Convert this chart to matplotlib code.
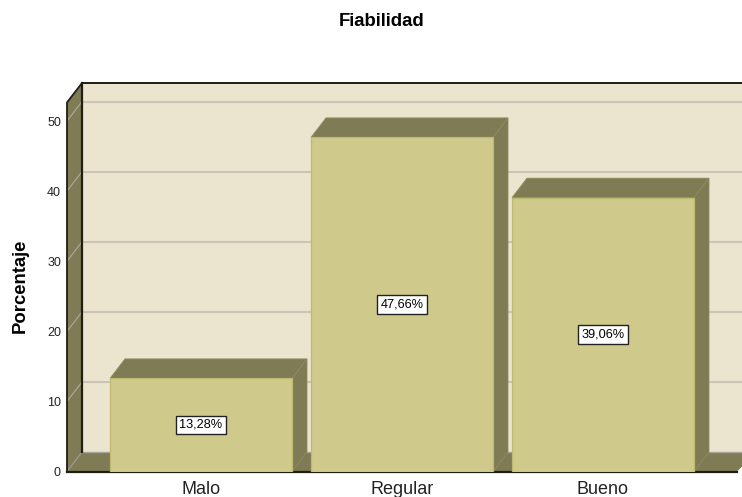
import matplotlib
matplotlib.use('Agg')
import matplotlib.pyplot as plt
from matplotlib.patches import Polygon

categorias = ['Malo', 'Regular', 'Bueno']
porcentajes = [13.28, 47.66, 39.06]
etiquetas = ['13,28%', '47,66%', '39,06%']
yticks = [0, 10, 20, 30, 40, 50]

plt.rcParams['font.family'] = ['Liberation Sans', 'DejaVu Sans']

W, H = 742, 497
fig = plt.figure(figsize=(W / 100, H / 100), dpi=100)
# ejes en pixeles de la imagen original
left, right, bottom, top = 67, 742, 471.5, 83
ax = fig.add_axes([left / W, 1 - bottom / H, (right - left) / W, (bottom - top) / H])
px_x = 201.0  # pixeles por categoria
px_y = 7.01   # pixeles por unidad
ax.set_xlim((left - 201) / px_x, (right - 201) / px_x)
ax.set_ylim(0, (bottom - top) / px_y)
ax.axis('off')

# profundidad 3d en unidades de datos
dx = 15 / px_x
dy = 19.5 / px_y
x0, x1 = ax.get_xlim()
ymax = ax.get_ylim()[1]
ytop = ymax - dy

pared = '#EBE5D0'
oscuro = '#7F7B55'
claro = '#CFCA8C'
borde = '#BDB96F'
diagonal = '#8F8B5C'
rejilla = '#C9C4B5'


def poli(pts, fc, ec='none', lw=0, z=1):
    ax.add_patch(Polygon(pts, closed=True, facecolor=fc, edgecolor=ec, linewidth=lw, zorder=z, clip_on=False))


# pared del fondo, suelo y pared izquierda
poli([(x0 + dx, dy), (x1 + dx, dy), (x1 + dx, ymax), (x0 + dx, ymax)], pared)
poli([(x0, 0), (x0 + dx, dy), (x1 + dx, dy), (x1 - 5 / px_x, 0)], oscuro, z=1.5)
poli([(x0, 0), (x0 + dx, dy), (x0 + dx, ymax), (x0, ytop)], oscuro, z=1.5)

for t in yticks[1:]:
    ax.plot([x0 + dx, x1], [t + dy, t + dy], color=rejilla, lw=1.5, zorder=2, clip_on=False)
    ax.plot([x0, x0 + dx], [t, t + dy], color='#A8A89C', lw=0.9, zorder=2, clip_on=False)
ax.plot([x0, x0 + dx], [0, dy], color='#9A9A90', lw=0.9, zorder=2)

# bordes negros
ax.plot([x0 + dx, x0 + dx], [dy, ymax], color='#1E1E14', lw=1.6, zorder=3, clip_on=False)
ax.plot([x0 + dx, x1], [ymax, ymax], color='#1E1E14', lw=1.4, zorder=3, clip_on=False)
ax.plot([x0 + dx, x0, x0], [ymax, ytop, 0], color='#1E1E14', lw=1.3, zorder=3, clip_on=False)
ax.plot([x0, x1 - 5 / px_x], [0, 0], color='#1E1E14', lw=1.6, zorder=3, clip_on=False)
ax.plot([x0 + dx, x1], [dy, dy], color='#A8A498', lw=1, zorder=2)

# barras
ancho = 182 / px_x
for i, v in enumerate(porcentajes):
    a, b = i - ancho / 2, i + ancho / 2
    poli([(a, v), (b, v), (b + dx, v + dy), (a + dx, v + dy)], oscuro, diagonal, 0.6, z=4)
    poli([(b, 0), (b + dx, dy), (b + dx, v + dy), (b, v)], oscuro, diagonal, 0.6, z=4)
    ax.bar(i, v, width=ancho, color=claro, edgecolor=borde, linewidth=0.9, zorder=5)
    ax.text(i, v / 2, etiquetas[i], ha='center', va='center', fontsize=9.2, color='black', zorder=6,
            bbox=dict(boxstyle='square,pad=0.26', facecolor='white', edgecolor='#222222', linewidth=1))
    ax.text(i, -2.6, categorias[i], ha='center', va='center', fontsize=13, color='#222222')

for t in yticks:
    ax.text(x0 - 6 / px_x, t - 0.25, str(t), ha='right', va='center', fontsize=9, color='#222222')

fig.text(382 / W, 1 - 21.5 / H, 'Fiabilidad', ha='center', va='center', fontsize=13.3, fontweight='bold')
fig.text(20.5 / W, 1 - 286 / H, 'Porcentaje', ha='center', va='center', rotation=90, fontsize=13.3, fontweight='bold')

fig.savefig('out.png', dpi=100)
